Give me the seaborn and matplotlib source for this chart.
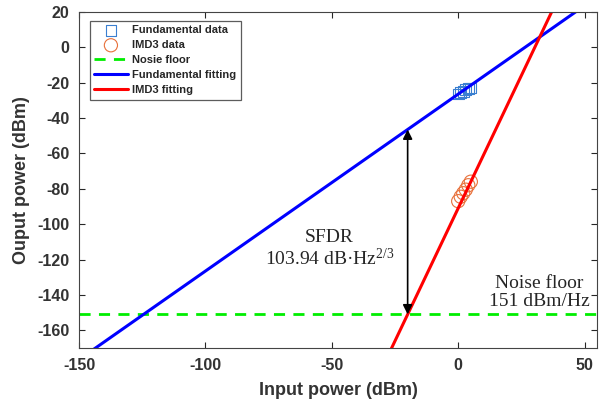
import numpy as np
import pandas as pd
import matplotlib
matplotlib.use("Agg")
import matplotlib.pyplot as plt
import seaborn as sns

# measured points
input_dbm = [0, 1, 2, 3, 4, 5]
fund_dbm = [-26.5, -25.5, -25.0, -24.0, -23.5, -23.0]
imd3_dbm = [-87.0, -84.5, -82.5, -80.5, -78.0, -76.0]

# linear fits (slope, intercept)
fund_fit = (1.0, -26.5)
imd3_fit = (3.0, -91.0)
noise_floor = -151.0
sfdr_x = -20.0

sns.set_theme(style="ticks")
plt.rcParams["font.family"] = ["Liberation Sans", "DejaVu Sans"]
plt.rcParams["axes.unicode_minus"] = False
plt.rcParams["mathtext.fontset"] = "custom"
plt.rcParams["mathtext.rm"] = "Liberation Serif"
plt.rcParams["mathtext.it"] = "Liberation Serif"

fig = plt.figure(figsize=(5.99, 4.08), dpi=100)
ax = fig.add_axes([0.132, 0.147, 0.865, 0.824])

xs = np.linspace(-160, 60, 50)
meas = pd.DataFrame({"x": input_dbm, "fund": fund_dbm, "imd3": imd3_dbm})

sns.scatterplot(data=meas, x="x", y="fund", marker="s", s=60, facecolors="none",
                edgecolor="#3a7fd0", linewidth=0.8, ax=ax, label="Fundamental data")
sns.scatterplot(data=meas, x="x", y="imd3", marker="o", s=90, facecolors="none",
                edgecolor="#e8703a", linewidth=0.8, ax=ax, label="IMD3 data")
ax.axhline(noise_floor, color="#00ee00", ls=(0, (4, 3)), lw=2, label="Nosie floor")
sns.lineplot(x=xs, y=fund_fit[0] * xs + fund_fit[1], color="#0000ff", lw=2.2, ax=ax,
             label="Fundamental fitting")
sns.lineplot(x=xs, y=imd3_fit[0] * xs + imd3_fit[1], color="#ff0000", lw=2.2, ax=ax,
             label="IMD3 fitting")

ax.annotate("", xy=(sfdr_x, fund_fit[0] * sfdr_x + fund_fit[1]), xytext=(sfdr_x, noise_floor),
            arrowprops=dict(arrowstyle="<|-|>", color="black", lw=1.2, mutation_scale=14,
                            shrinkA=0, shrinkB=0))

ax.text(-51, -114, "SFDR\n103.94 dB\u00b7Hz$^{2/3}$", ha="center", va="center",
        fontsize=14, family="Liberation Serif", linespacing=1.15)
ax.text(32, -138.6, "Noise floor\n151 dBm/Hz", ha="center", va="center",
        fontsize=14, family="Liberation Serif", linespacing=1.1)

ax.set_xlim(-150, 55)
ax.set_ylim(-170, 20)
ax.set_xticks([-150, -100, -50, 0, 50])
ax.set_yticks(np.arange(-160, 21, 20))
ax.tick_params(direction="in", top=True, right=True, labelsize=11.5, length=4, width=0.8,
               pad=7, labelcolor="#333333")
for lab in ax.get_xticklabels() + ax.get_yticklabels():
    lab.set_fontweight("bold")
ax.set_xlabel("Input power (dBm)", fontsize=13, fontweight="bold", color="#333333",
              labelpad=7)
ax.set_ylabel("Ouput power (dBm)", fontsize=13, fontweight="bold", color="#333333",
              labelpad=5)
for sp in ax.spines.values():
    sp.set_color("#444444")
    sp.set_linewidth(0.8)

leg = ax.legend(loc="upper left", bbox_to_anchor=(0.01, 0.99), fontsize=8, frameon=True,
                fancybox=False, edgecolor="#333333", handlelength=3, borderpad=0.4,
                labelspacing=0.45, handletextpad=0.4)
for t in leg.get_texts():
    t.set_fontweight("bold")
leg.get_frame().set_linewidth(0.9)

fig.savefig("out.png", dpi=100)
